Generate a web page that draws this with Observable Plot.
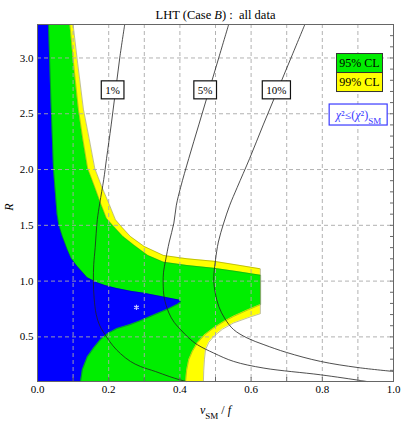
<!DOCTYPE html>
<html><head><meta charset="utf-8">
<script src="https://cdn.jsdelivr.net/npm/d3@7"></script>
<script src="https://cdn.jsdelivr.net/npm/@observablehq/plot@0.6"></script>
<style>
body{margin:0;background:#fff;}
#chart svg{display:block;}
</style></head><body><div id="chart"></div>
<script>
// ---- text ----
const titleParts = [["LHT (Case ", ""], ["B", "i"], [") :  all data", ""]];
const xLabelParts = [["ν", "i"], ["SM", "sub"], [" / ", ""], ["f", "i"]];
const yLabelParts = [["R", "i"]];
const chiParts = [["χ", "i"], ["²≤(", ""], ["χ", "i"], ["²)", ""], ["SM", "sub"]];
const legendLabels = ["95% CL", "99% CL"];
const contourNames = ["1%", "5%", "10%"];
const contourLabelX = [0.211, 0.471, 0.671];
const contourLabelR = [2.71, 2.71, 2.71];

// ---- ticks ----
const xTicks = [0, 0.2, 0.4, 0.6, 0.8, 1.0];
const xMinor = [0, 0.1, 0.2, 0.3, 0.4, 0.5, 0.6, 0.7, 0.8, 0.9, 1.0];
const xGrid = [0.1, 0.2, 0.3, 0.4, 0.5, 0.6, 0.7, 0.8, 0.9];
const yTicks = [0.5, 1.0, 1.5, 2.0, 2.5, 3.0];
const yMinor = [0.2, 0.3, 0.4, 0.5, 0.6, 0.7, 0.8, 0.9, 1.0, 1.1, 1.2, 1.3, 1.4, 1.5, 1.6, 1.7, 1.8, 1.9, 2.0, 2.1, 2.2, 2.3, 2.4, 2.5, 2.6, 2.7, 2.8, 2.9, 3.0, 3.1, 3.2];

// ---- regions: right edge x for ascending R (filled from x = 0) ----
const yellowEdge = [[0.466,0.10],[0.467,0.20],[0.469,0.30],[0.472,0.385],[0.481,0.45],[0.495,0.504],[0.520,0.57],[0.551,0.625],[0.590,0.67],[0.626,0.708],[0.626,1.11],[0.560,1.145],[0.495,1.178],[0.420,1.20],[0.354,1.23],[0.300,1.31],[0.261,1.40],[0.238,1.48],[0.219,1.55],[0.200,1.70],[0.180,1.85],[0.161,2.01],[0.145,2.28],[0.129,2.54],[0.113,2.95],[0.100,3.30]];
const greenEdge = [[0.416,0.10],[0.419,0.20],[0.425,0.295],[0.435,0.37],[0.449,0.445],[0.470,0.52],[0.495,0.58],[0.525,0.64],[0.551,0.684],[0.590,0.74],[0.627,0.79],[0.627,1.052],[0.560,1.085],[0.495,1.115],[0.420,1.14],[0.354,1.17],[0.310,1.23],[0.272,1.32],[0.240,1.40],[0.214,1.49],[0.194,1.56],[0.177,1.70],[0.160,1.85],[0.141,2.01],[0.127,2.28],[0.115,2.54],[0.103,2.90],[0.091,3.30]];
const blueEdge = [[0.121,0.10],[0.126,0.205],[0.140,0.32],[0.158,0.40],[0.177,0.475],[0.200,0.535],[0.224,0.575],[0.261,0.61],[0.289,0.645],[0.330,0.70],[0.370,0.755],[0.395,0.795],[0.403,0.815],[0.398,0.83],[0.382,0.84],[0.350,0.86],[0.300,0.89],[0.261,0.91],[0.220,0.935],[0.190,0.96],[0.168,0.985],[0.140,1.03],[0.112,1.13],[0.095,1.20],[0.084,1.28],[0.070,1.40],[0.060,1.50],[0.055,1.60],[0.050,1.80],[0.045,2.00],[0.038,2.60],[0.031,3.30]];
const bestFit = [[0.278, 0.765]];

// ---- contour lines (x, R) ----
const c1 = [[0.245,3.30],[0.231,3.00],[0.219,2.70],[0.207,2.40],[0.194,2.10],[0.186,1.91],[0.175,1.70],[0.168,1.55],[0.162,1.30],[0.158,1.15],[0.157,1.00],[0.159,0.85],[0.165,0.70],[0.175,0.60],[0.194,0.50],[0.212,0.42],[0.233,0.35],[0.261,0.28],[0.289,0.235],[0.331,0.19],[0.370,0.145],[0.400,0.115],[0.417,0.10]];
const c5 = [[0.537,3.30],[0.509,3.00],[0.481,2.70],[0.453,2.40],[0.425,2.10],[0.402,1.84],[0.390,1.68],[0.383,1.52],[0.370,1.35],[0.360,1.19],[0.354,1.08],[0.353,0.98],[0.356,0.85],[0.369,0.715],[0.384,0.63],[0.402,0.565],[0.425,0.49],[0.449,0.43],[0.495,0.355],[0.551,0.28],[0.636,0.22],[0.795,0.16],[0.907,0.109],[0.925,0.10]];
const c10 = [[0.751,3.30],[0.712,3.00],[0.673,2.70],[0.634,2.40],[0.596,2.10],[0.561,1.84],[0.540,1.68],[0.523,1.52],[0.508,1.35],[0.500,1.19],[0.496,1.08],[0.495,1.00],[0.499,0.90],[0.509,0.774],[0.527,0.66],[0.551,0.565],[0.589,0.49],[0.636,0.43],[0.700,0.36],[0.795,0.28],[0.900,0.225],[1.000,0.19]];

const X = d => d[0], Y = d => d[1];
const join = parts => parts.map(p => p[0]).join("");
const contourLabels = contourNames.map((t, i) => ({t, x: contourLabelX[i], R: contourLabelR[i]}));
const serif = "Liberation Serif, Times New Roman, serif";

const plot = Plot.plot({
  width: 401, height: 421,
  marginLeft: 37, marginRight: 8, marginTop: 24, marginBottom: 40,
  style: {fontFamily: serif, fontSize: "11px", background: "white", color: "black"},
  x: {domain: [0, 1]},
  y: {domain: [0.1, 3.3]},
  marks: [
    Plot.areaX(yellowEdge, {x: X, y: Y, fill: "#ffff00"}),
    Plot.areaX(greenEdge, {x: X, y: Y, fill: "#00ee00"}),
    Plot.areaX(blueEdge, {x: X, y: Y, fill: "#0000ff"}),
    Plot.line(yellowEdge, {x: X, y: Y, stroke: "#6b6b00", strokeWidth: 0.6, strokeOpacity: 0.7}),
    Plot.line(greenEdge, {x: X, y: Y, stroke: "#2a6a2a", strokeWidth: 0.6, strokeOpacity: 0.6}),
    Plot.line(blueEdge, {x: X, y: Y, stroke: "#000080", strokeWidth: 0.6, strokeOpacity: 0.6}),
    Plot.gridX(xGrid, {stroke: "#aaaaaa", strokeOpacity: 0.9, strokeDasharray: "4,3"}),
    Plot.gridY(yTicks, {stroke: "#aaaaaa", strokeOpacity: 0.9, strokeDasharray: "4,3"}),
    Plot.dot(bestFit, {x: X, y: Y, symbol: "asterisk", r: 2.5, stroke: "#c8c8ff", strokeWidth: 1.2}),
    Plot.line(c1, {x: X, y: Y, stroke: "#222", strokeWidth: 0.8, curve: "catmull-rom"}),
    Plot.line(c5, {x: X, y: Y, stroke: "#222", strokeWidth: 0.8, curve: "catmull-rom"}),
    Plot.line(c10, {x: X, y: Y, stroke: "#222", strokeWidth: 0.8, curve: "catmull-rom"}),
    Plot.text(contourLabels, {x: "x", y: "R", text: "t", fontSize: 11}),
    Plot.frame({stroke: "#666"}),
    Plot.axisX(xTicks, {tickSize: 0, tickPadding: 4, tickFormat: d => d.toFixed(1), label: null}),
    Plot.axisX(xMinor, {tickSize: 4, dy: -4, fill: "none", stroke: "#666", label: null}),
    Plot.axisY(yTicks, {tickSize: 0, tickPadding: 4, tickFormat: d => d.toFixed(1), label: null}),
    Plot.axisY(yMinor, {anchor: "right", tickSize: 4, dx: -4, fill: "none", stroke: "#666", label: null}),
    Plot.text([join(titleParts)], {frameAnchor: "top", dy: -14, fontSize: 12.5, textAnchor: "middle"}),
    Plot.text([join(xLabelParts)], {frameAnchor: "bottom", dy: 32, fontSize: 12, textAnchor: "middle"}),
    Plot.text([join(yLabelParts)], {frameAnchor: "left", dx: -28, dy: 4, rotate: -90, fontSize: 12, textAnchor: "middle"}),
    Plot.text([legendLabels[0]], {frameAnchor: "top-right", dx: -34, dy: 34, fontSize: 12, textAnchor: "middle"}),
    Plot.text([legendLabels[1]], {frameAnchor: "top-right", dx: -34, dy: 53, fontSize: 12, textAnchor: "middle"}),
    Plot.text([join(chiParts)], {frameAnchor: "top-right", dx: -35, dy: 85.5, fontSize: 12, fill: "#3a3aff", textAnchor: "middle"})
  ]
});
document.getElementById("chart").append(plot);

const svg = d3.select(plot);
const textsWith = s => svg.selectAll("text").filter(function() { return this.textContent === s; });

function rich(parts) {
  textsWith(join(parts)).each(function() {
    const t = d3.select(this).text(null).style("white-space", "pre");
    for (const [s, f] of parts) {
      const ts = t.append("tspan").text(s);
      if (f === "i") ts.attr("font-style", "italic");
      if (f === "sub") ts.attr("baseline-shift", "sub").attr("font-size", "75%");
    }
  });
}
function boxify(str, o) {
  textsWith(str).each(function() {
    const bb = this.getBBox();
    const w = o.w ?? bb.width + 2 * o.padX;
    const h = o.h;
    d3.select(this.parentNode).insert("rect", () => this)
      .attr("transform", this.getAttribute("transform"))
      .attr("x", bb.x + bb.width / 2 - w / 2)
      .attr("y", bb.y + bb.height / 2 - h / 2)
      .attr("width", w).attr("height", h)
      .attr("fill", o.fill).attr("stroke", o.stroke).attr("stroke-width", o.sw);
  });
}
const chiString = join(chiParts);
boxify(chiString, {w: 58, h: 21, fill: "white", stroke: "#3a3aff", sw: 1.2});
for (const n of contourNames) boxify(n, {padX: 4, h: 18, fill: "white", stroke: "#111", sw: 1.2});
boxify(legendLabels[0], {w: 46, h: 19, fill: "#00ee00", stroke: "#333", sw: 1});
boxify(legendLabels[1], {w: 46, h: 19, fill: "#ffff00", stroke: "#333", sw: 1});
rich(titleParts);
rich(xLabelParts);
rich(yLabelParts);
rich(chiParts);
</script></body></html>
